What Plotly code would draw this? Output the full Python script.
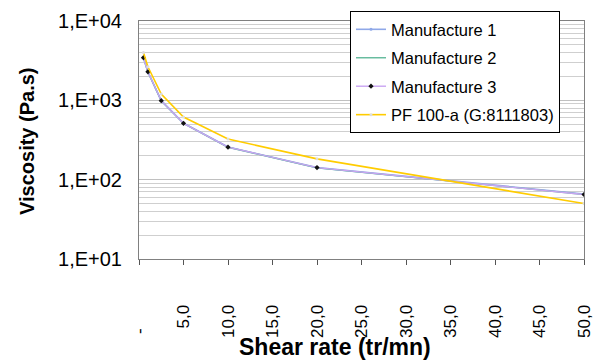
import plotly.graph_objects as go

shear = [0.5, 1.0, 2.5, 5.0, 10.0, 20.0, 50.0]
manuf1 = [3450, 2290, 990, 515, 258, 142, 66]
manuf2 = [3430, 2280, 985, 512, 256, 141, 65]
manuf3 = [3450, 2285, 990, 513, 257, 142, 65]
pf100 = [4000, 2650, 1200, 615, 325, 183, 50]

xtick_vals = [0, 5, 10, 15, 20, 25, 30, 35, 40, 45, 50]
xtick_text = ["-\u00a0\u00a0\u00a0\u00a0\u00a0", "5,0", "10,0", "15,0", "20,0", "25,0", "30,0", "35,0", "40,0", "45,0", "50,0"]
ytick_vals = [10, 100, 1000, 10000]
ytick_text = ["1,E+01", "1,E+02", "1,E+03", "1,E+04"]

FONT = "Liberation Sans, Arial, sans-serif"

fig = go.Figure()
fig.add_trace(go.Scatter(x=shear, y=manuf1, name="Manufacture 1", mode="lines+markers",
                         line=dict(color="#8FA8E8", width=1.6),
                         marker=dict(size=3, color="#8FA8E8"), legendgroup="a"))
fig.add_trace(go.Scatter(x=shear, y=manuf2, name="Manufacture 2", mode="lines",
                         line=dict(color="#5FB89A", width=1.4), legendgroup="b"))
fig.add_trace(go.Scatter(x=shear, y=manuf3, name="Manufacture 3", mode="lines+markers",
                         line=dict(color="#C9A4F2", width=1.4),
                         marker=dict(size=4, color="#111111", symbol="diamond"), legendgroup="c"))
fig.add_trace(go.Scatter(x=shear, y=pf100, name="PF 100-a (G:8111803)", mode="lines+markers",
                         line=dict(color="#FFCC00", width=1.6),
                         marker=dict(size=3, color="#DDDDDD"), legendgroup="d"))

fig.update_layout(
    width=595, height=361,
    margin=dict(l=139, r=11, t=19, b=102),
    plot_bgcolor="white", paper_bgcolor="white",
    font=dict(family=FONT, color="black"),
    showlegend=True,
    legend=dict(x=(350 - 139) / 445, y=1 + 10 / 240, xanchor="left", yanchor="top",
                bgcolor="white", bordercolor="black", borderwidth=1,
                font=dict(size=16.5, family=FONT), tracegroupgap=4, itemwidth=30),
)
fig.update_xaxes(range=[0, 50], tickvals=xtick_vals, ticktext=xtick_text,
                 tickangle=-90, tickfont=dict(size=17), ticks="outside", ticklen=5,
                 tickcolor="#555555", ticklabelstandoff=33, automargin=False,
                 showgrid=False, showline=True, linecolor="#808080", linewidth=1,
                 mirror=True, zeroline=False)
fig.update_yaxes(type="log", range=[1, 4], tickvals=ytick_vals, ticktext=ytick_text,
                 tickfont=dict(size=20), ticks="", showgrid=True, gridcolor="#C0C0C0",
                 gridwidth=1, minor=dict(showgrid=True, gridcolor="#CFCFCF", gridwidth=1,
                                         dtick="D1"),
                 showline=True, linecolor="#808080", linewidth=1, mirror=True,
                 ticklabelstandoff=12, automargin=False)

fig.add_annotation(text="<b>Shear rate (tr/mn)</b>", xref="paper", yref="paper",
                   x=(335 - 139) / 445, y=-(348 - 259) / 240, showarrow=False,
                   font=dict(size=23, family=FONT), xanchor="center", yanchor="middle")
fig.add_annotation(text="<b>Viscosity (Pa.s)</b>", xref="paper", yref="paper",
                   x=-(139 - 27) / 445, y=(259 - 141) / 240, showarrow=False, textangle=-90,
                   font=dict(size=20, family=FONT), xanchor="center", yanchor="middle")

fig.write_html("out.html")
